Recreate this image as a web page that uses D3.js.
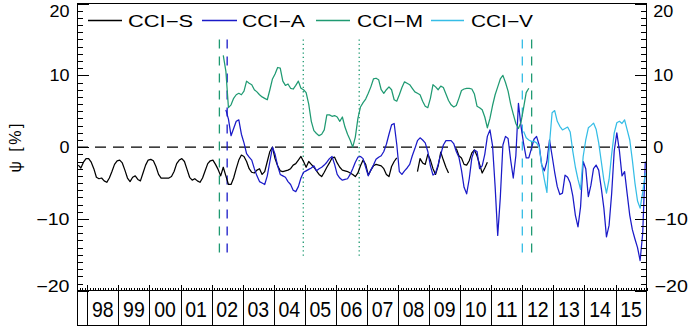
<!DOCTYPE html>
<html><head><meta charset="utf-8">
<script src="https://cdn.jsdelivr.net/npm/d3@7"></script>
<style>
html,body{margin:0;padding:0;background:#fff;}
svg{display:block;}
text{font-family:"Liberation Sans",Arial,Helvetica,sans-serif;fill:#000;}
</style></head><body>
<svg id="chart" width="690" height="328"></svg>
<script>
// ---------------- data (monthly means, %) ----------------
const ccisStart = [1997, 9];
const ccisValues = [
 -2.5,-2.9,-2.1,-1.6,
 -1.6,-2.1,-3.0,-4.2,-4.4,-4.3,-4.7,-4.9,-4.3,-3.4,-2.4,-1.9,
 -1.8,-2.2,-3.2,-4.3,-4.8,-4.2,-4.0,-4.5,-4.7,-3.6,-2.5,-1.8,
 -1.7,-1.9,-2.7,-3.8,-4.3,-4.3,-4.3,-4.3,-4.1,-3.4,-2.3,-1.8,
 -1.6,-2.0,-3.1,-4.2,-4.6,-4.4,-4.7,-4.9,-4.3,-3.3,-2.3,-1.9,
 -1.8,-2.4,-3.1,-4.0,-2.8,-4.0,-5.2,-5.2,-4.3,-3.0,-1.8,-1.1,
 -1.3,-2.0,-3.0,-3.5,-3.6,-3.2,-3.0,-3.8,-3.4,-2.0,-0.6,0.0,
 -1.6,-2.6,-3.3,-3.4,-3.3,-3.2,-3.0,-2.5,-2.3,-1.8,-1.3,-2.0,
 -2.8,-2.0,-2.4,-2.8,-3.3,-3.8,-4.1,-3.5,-2.8,-2.2,-1.5,-1.4,
 -2.2,-2.8,-3.2,-3.3,-3.4,-3.6,-3.8,-4.1,-3.6,-2.6,-1.8,-2.4,
 -3.9,-3.2,-2.6,-2.4,-2.5,-2.6,-3.0,-3.8,-4.1,-2.7,-2.0,-1.5,
 null,null,null,null,null,null,null,-3.4,-1.6,-2.2,-2.4,-1.0,
 -1.8,-3.0,-3.8,-2.6,-0.7,-1.8,-2.8,-3.6,null,null,-0.2,-1.2,
 -1.5,-2.4,-2.5,-1.9,-0.8,-0.4,-1.2,-2.4,-3.6,-2.9,-2.1
];
const cciaStart = [2002, 6];
const cciaValues = [
 5.2,3.9,1.6,2.6,3.6,3.8,1.8,
 0.6,-0.9,-1.4,-1.8,-3.0,-4.0,-4.8,-5.0,-5.2,-4.0,-2.0,0.0,
 -1.0,-2.6,-3.8,-4.0,-4.2,-4.8,-5.2,-6.0,-6.2,-5.5,-4.3,-3.5,
 -3.3,-3.1,-2.9,-2.6,-3.3,-3.0,-2.8,-2.5,-2.1,-1.6,-1.3,-2.4,
 -3.8,-4.3,-4.6,-4.5,-4.4,-3.8,-3.0,-2.1,-1.4,-1.3,-1.6,-2.8,
 -4.0,-3.2,-2.5,-1.7,-1.4,-1.2,-0.6,0.4,1.8,3.1,3.3,0.4,
 -3.4,-3.8,-3.3,-2.9,-2.4,-1.2,-0.2,0.9,1.3,1.0,0.6,-0.6,
 -2.6,-3.9,-3.6,-2.4,-1.0,0.3,0.9,0.9,0.9,0.5,-0.6,-1.4,
 -3.2,-5.6,-6.5,-4.4,-1.5,-0.4,-0.6,-3.0,-2.6,-1.0,1.5,2.4,
 0.2,-5.5,-12.3,-7.0,0.3,1.5,1.2,-1.8,-4.3,-1.2,6.1,2.9,
 0.5,-1.5,-1.5,-0.2,1.1,1.5,0.3,-2.5,-3.3,-2.0,1.0,-1.2,
 -3.5,-5.5,-6.6,-6.4,-3.9,-4.2,-5.0,-6.8,-9.5,-11.1,-8.3,-2.0,
 -3.0,-6.9,-5.3,-3.0,-2.5,-3.2,-5.7,-8.5,-12.5,-10.9,-6.5,-0.5,
 2.0,-0.5,-4.0,-3.4,-6.5,-9.5,-11.5,-12.8,-14.0,-15.8,-12.0,-2.0
];
const ccimStart = [2002, 5];
const ccimValues = [
 12.8,10.6,5.5,5.9,6.8,7.3,7.5,7.3,
 7.8,9.2,8.9,8.7,8.0,7.7,7.3,7.0,6.8,6.6,8.0,9.5,
 10.2,11.1,11.0,9.2,8.6,8.8,8.2,8.1,8.6,9.2,8.2,8.0,
 7.6,6.0,3.6,2.3,1.9,1.6,1.8,2.4,4.5,4.5,4.3,4.4,
 4.2,3.6,4.2,2.8,1.8,1.0,0.0,1.4,4.0,5.6,6.2,6.7,
 7.5,8.4,9.5,9.6,9.4,8.0,7.5,8.0,8.4,8.0,6.6,6.4,
 7.3,8.3,9.1,8.9,8.7,8.2,7.7,7.5,7.3,6.4,5.7,5.5,
 6.8,8.7,8.4,8.0,8.5,8.3,7.4,6.5,5.9,5.6,5.8,6.8,
 7.9,8.1,8.2,8.2,8.1,7.4,5.7,5.5,5.2,4.2,2.7,4.0,
 5.8,7.3,8.4,9.5,10.0,9.0,7.8,6.0,4.6,3.3,2.6,3.5,
 5.5,7.6,8.2
];
const ccivStart = [2012, 1];
const ccivValues = [
 2.2,1.3,1.0,0.8,0.8,0.6,0.0,-2.5,-4.5,-6.3,0.5,4.8,
 5.1,3.6,2.9,2.4,2.6,2.8,2.1,-0.6,-2.8,-4.5,-5.9,-1.3,
 1.0,2.7,3.0,3.35,2.5,0.6,-2.0,-4.6,-6.4,-4.5,-1.0,2.0,
 3.4,3.6,3.3,3.8,2.4,1.0,-1.8,-5.0,-7.5,-8.5,-6.3,-3.6
];
const seriesNames = ["CCI\u2212S","CCI\u2212A","CCI\u2212M","CCI\u2212V"];
const yTickValues = [-20,-10,0,10,20];
const yearLabels = ["98","99","00","01","02","03","04","05","06","07","08","09","10","11","12","13","14","15"];
const firstLabelYear = 1998;
const dashedMarkerDates = [2002.25, 2002.5, 2012.0, 2012.3];   // CCI-M, CCI-A, CCI-V, CCI-M
const dottedMarkerDates = [2004.95, 2006.75];
const xDomain = [1997.667, 2016];
const yDomain = [-20, 20];

// ---------------- styles ----------------
const colS = "#000000", colA = "#1a1ac8", colM = "#1f9a72", colV = "#35bde6";
const seriesColors = [colS, colA, colM, colV];
const dashedMarkerColors = [colM, colA, colV, colM];

const svg = d3.select("#chart");
const X0 = 77, X1 = 646.6, YT = 3.6, YB = 290.7, YBAND = 325;
const x = d3.scaleLinear().domain(xDomain).range([X0, X1]);
const y = d3.scaleLinear().domain(yDomain).range([YB, YT]);

function monthly(start, values) {
  return values.map((v, i) => {
    const m = start[1] - 1 + i;
    return {t: start[0] + (m + 0.5) / 12, v: v};
  });
}

// zero line
svg.append("line").attr("x1", X0).attr("x2", X1).attr("y1", y(0)).attr("y2", y(0))
  .attr("stroke", "#000").attr("stroke-width", 1.2).attr("stroke-dasharray", "11,7");

// vertical markers
dashedMarkerDates.forEach((d, i) => {
  svg.append("line").attr("x1", x(d)).attr("x2", x(d)).attr("y1", y(15)).attr("y2", y(-15.2))
    .attr("stroke", dashedMarkerColors[i]).attr("stroke-width", 1.3).attr("stroke-dasharray", "9,8");
});
dottedMarkerDates.forEach(d => {
  svg.append("line").attr("x1", x(d)).attr("x2", x(d)).attr("y1", y(15)).attr("y2", y(-15.2))
    .attr("stroke", colM).attr("stroke-width", 1.3).attr("stroke-dasharray", "1.3,3");
});

// series
const line = d3.line().defined(d => d.v !== null).x(d => x(d.t)).y(d => y(d.v));
const seriesData = [monthly(ccisStart, ccisValues), monthly(cciaStart, cciaValues),
                    monthly(ccimStart, ccimValues), monthly(ccivStart, ccivValues)];
seriesData.forEach((data, i) => {
  svg.append("path").datum(data).attr("d", line).attr("fill", "none")
    .attr("stroke", seriesColors[i]).attr("stroke-width", 1.25).attr("stroke-linejoin", "round");
});

// frame
const frame = svg.append("g").attr("stroke", "#000").attr("stroke-width", 1).attr("shape-rendering", "crispEdges");
frame.append("line").attr("x1", X0).attr("x2", X1).attr("y1", YT).attr("y2", YT);
frame.append("line").attr("x1", X0).attr("x2", X1).attr("y1", YB).attr("y2", YB);
frame.append("line").attr("x1", X0).attr("x2", X1).attr("y1", YBAND).attr("y2", YBAND);
frame.append("line").attr("x1", X0).attr("x2", X0).attr("y1", YT).attr("y2", YBAND);
frame.append("line").attr("x1", X1).attr("x2", X1).attr("y1", YT).attr("y2", YBAND);

// y axes (ticks inward)
const minorY = d3.range(-20, 21, 1).filter(v => v % 10 !== 0);
function styleAxis(g) { g.select(".domain").remove(); g.selectAll("line").attr("stroke", "#000").attr("shape-rendering", "crispEdges"); }
svg.append("g").attr("transform", `translate(${X0},0)`)
  .call(d3.axisRight(y).tickValues(yTickValues).tickSize(12).tickFormat("")).call(styleAxis);
svg.append("g").attr("transform", `translate(${X0},0)`)
  .call(d3.axisRight(y).tickValues(minorY).tickSize(6).tickFormat("")).call(styleAxis);
svg.append("g").attr("transform", `translate(${X1},0)`)
  .call(d3.axisLeft(y).tickValues(yTickValues).tickSize(12).tickFormat("")).call(styleAxis);
svg.append("g").attr("transform", `translate(${X1},0)`)
  .call(d3.axisLeft(y).tickValues(minorY).tickSize(6).tickFormat("")).call(styleAxis);

// y tick labels
function tickLabel(v) { return v < 0 ? "\u2212" + Math.abs(v) : String(v); }
function tickLen(v) { const s = String(Math.abs(v)); return s.length * 10 + (v < 0 ? 13.3 : 0); }
function tickBase(v) { const c = Math.min(Math.max(y(v), 10.8), 286.3); return c + 5.8; }
yTickValues.forEach(v => {
  svg.append("text").attr("x", 69.5).attr("y", tickBase(v)).attr("text-anchor", "end")
    .attr("font-size", 16).attr("textLength", tickLen(v)).attr("lengthAdjust", "spacingAndGlyphs")
    .text(tickLabel(v));
  svg.append("text").attr("x", v < 0 ? 654.5 : 653.3).attr("y", tickBase(v)).attr("text-anchor", "start")
    .attr("font-size", 16).attr("textLength", tickLen(v)).attr("lengthAdjust", "spacingAndGlyphs")
    .text(tickLabel(v));
});

// x axis: monthly + yearly ticks pointing up
const monthTicks = d3.range(Math.ceil(xDomain[0] * 12) , xDomain[1] * 12 + 1).map(m => m / 12);
const yearTicks = d3.range(1998, 2016);
svg.append("g").attr("transform", `translate(0,${YB})`)
  .call(d3.axisTop(x).tickValues(monthTicks).tickSize(2.3).tickFormat("")).call(styleAxis);
svg.append("g").attr("transform", `translate(0,${YB})`)
  .call(d3.axisTop(x).tickValues(yearTicks).tickSize(5.7).tickFormat("")).call(styleAxis);
// year band separators
svg.append("g").attr("transform", `translate(0,${YB})`)
  .call(d3.axisBottom(x).tickValues(yearTicks).tickSize(YBAND - YB).tickFormat("")).call(styleAxis);
// year labels
yearLabels.forEach((lab, i) => {
  const yr = firstLabelYear + i;
  svg.append("text").attr("x", x(yr + 0.5)).attr("y", 317.3).attr("text-anchor", "middle")
    .attr("font-size", 22).attr("textLength", 21.7).attr("lengthAdjust", "spacingAndGlyphs").text(lab);
});

// y label
svg.append("text").attr("transform", "translate(21,148) rotate(-90)").attr("text-anchor", "middle")
  .attr("font-size", 16).attr("textLength", 49).text("\u03c8 [%]");

// legend
const legendItems = [
  {lx: 88, lx2: 122, tx: 128, tw: 65},
  {lx: 202, lx2: 237, tx: 242, tw: 63},
  {lx: 316, lx2: 350, tx: 357, tw: 66},
  {lx: 431, lx2: 464, tx: 471, tw: 62}
];
legendItems.forEach((it, i) => {
  svg.append("line").attr("x1", it.lx).attr("x2", it.lx2).attr("y1", 20.5).attr("y2", 20.5)
    .attr("stroke", seriesColors[i]).attr("stroke-width", 1.4);
  svg.append("text").attr("x", it.tx).attr("y", 26.8).attr("font-size", 16)
    .attr("textLength", it.tw).attr("lengthAdjust", "spacingAndGlyphs").text(seriesNames[i]);
});
</script>
</body></html>
